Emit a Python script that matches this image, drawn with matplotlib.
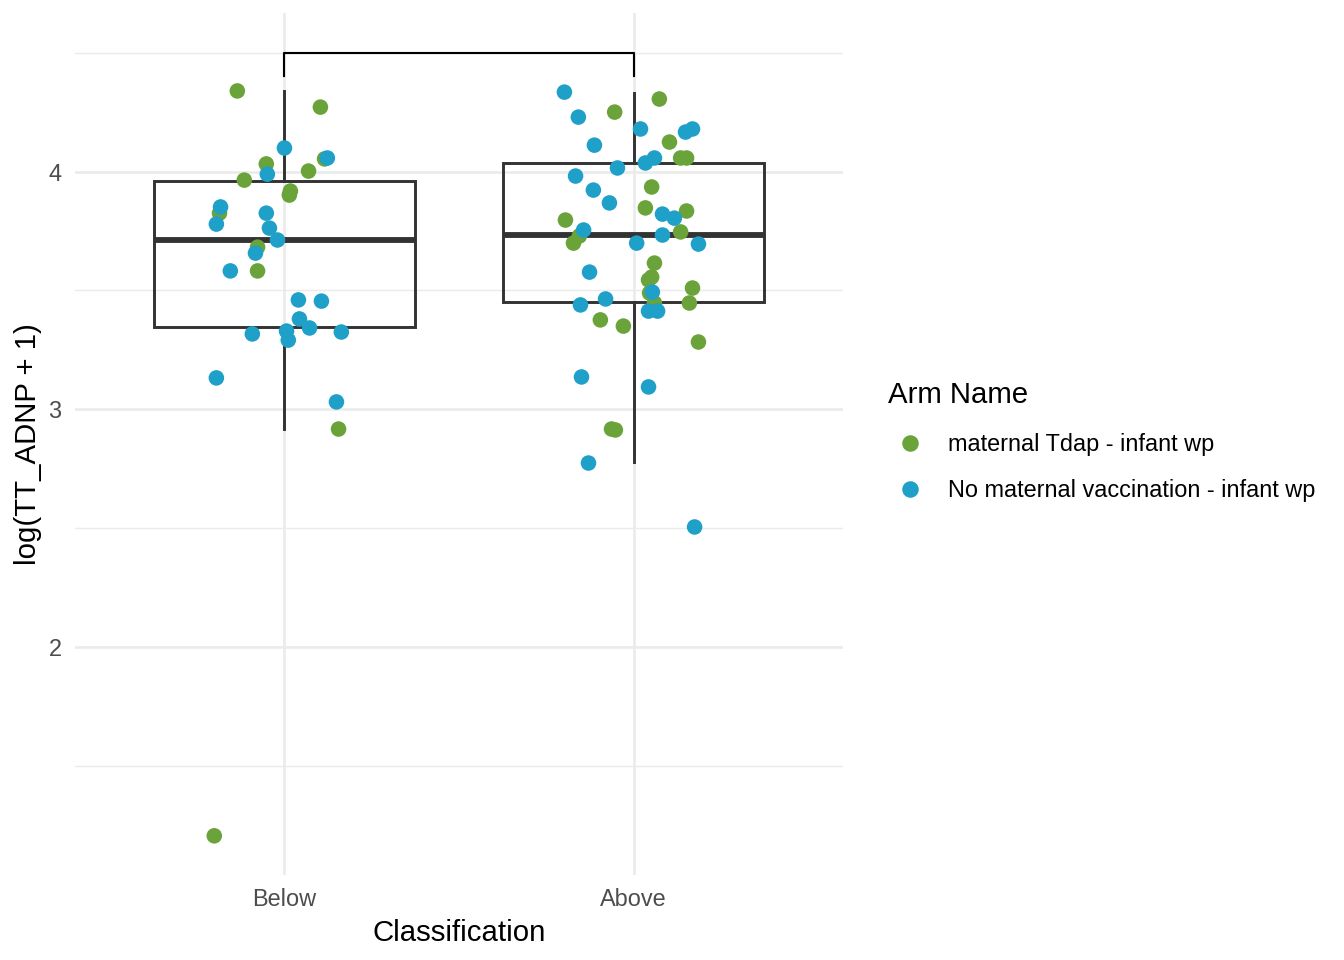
import matplotlib
matplotlib.use("Agg")
from matplotlib import pyplot as plt
from matplotlib.lines import Line2D

plt.rcParams['font.family'] = ['Liberation Sans', 'DejaVu Sans']

# --- data ---
categories = ['Below', 'Above']
arm_names = ['maternal Tdap - infant wp', 'No maternal vaccination - infant wp']
arm_colors = ['#69A33A', '#1FA0C8']

# log(TT_ADNP + 1) values and the horizontal jitter seen in the picture
below_tdap_val = [4.339, 4.271, 4.053, 4.032, 4.002, 3.964, 3.918, 3.901, 3.825,
                  3.682, 3.582, 2.917, 1.206]
below_tdap_dx = [-0.135, 0.103, 0.115, -0.052, 0.069, -0.115, 0.017, 0.014, -0.186,
                 -0.077, -0.077, 0.155, -0.201]
below_none_val = [4.099, 4.057, 3.989, 3.851, 3.779, 3.825, 3.762, 3.712, 3.657, 3.582,
                  3.460, 3.455, 3.380, 3.342, 3.317, 3.329, 3.291, 3.325, 3.132, 3.031]
below_none_dx = [0.0, 0.123, -0.049, -0.183, -0.195, -0.052, -0.043, -0.020, -0.083, -0.155,
                 0.040, 0.106, 0.043, 0.072, -0.092, 0.006, 0.011, 0.163, -0.195, 0.149]
above_tdap_val = [4.305, 4.250, 4.124, 4.057, 4.057, 3.935, 3.847, 3.834, 3.796, 3.729,
                  3.699, 3.746, 3.615, 3.556, 3.544, 3.510, 3.489, 3.447, 3.447, 3.376,
                  3.350, 3.283, 2.917, 2.913]
above_tdap_dx = [0.074, -0.054, 0.103, 0.135, 0.152, 0.052, 0.034, 0.152, -0.195, -0.155,
                 -0.172, 0.135, 0.060, 0.052, 0.043, 0.169, 0.046, 0.160, 0.060, -0.095,
                 -0.029, 0.186, -0.063, -0.052]
above_none_val = [4.334, 4.229, 4.179, 4.166, 4.179, 4.111, 4.036, 4.057, 4.015, 3.981,
                  3.922, 3.868, 3.821, 3.804, 3.754, 3.733, 3.699, 3.695, 3.577, 3.493,
                  3.464, 3.439, 3.413, 3.413, 3.136, 3.094, 2.774, 2.505]
above_none_dx = [-0.198, -0.158, 0.020, 0.149, 0.169, -0.112, 0.034, 0.060, -0.046, -0.166,
                 -0.115, -0.069, 0.083, 0.117, -0.143, 0.083, 0.009, 0.186, -0.126, 0.054,
                 -0.080, -0.152, 0.043, 0.069, -0.149, 0.043, -0.129, 0.175]

# box statistics per category
box_q1 = [3.346, 3.451]
box_med = [3.714, 3.733]
box_q3 = [3.960, 4.036]
box_whislo = [2.917, 2.778]
box_whishi = [4.339, 4.330]

# comparison bracket
bracket_y = 4.498
bracket_tip = 4.402

fig = plt.figure(figsize=(7, 5), dpi=192)
ax = fig.add_axes([0.0558, 0.0885, 0.5714, 0.898])

# grid like theme_minimal
grid_major = '#EBEBEB'
for y in [2, 3, 4]:
    ax.axhline(y, color=grid_major, lw=1.0, zorder=0)
for y in [1.5, 2.5, 3.5, 4.5]:
    ax.axhline(y, color=grid_major, lw=0.55, zorder=0)
for x in [1, 2]:
    ax.axvline(x, color=grid_major, lw=1.0, zorder=0)

stats = []
for i, name in enumerate(categories):
    stats.append(dict(label=name, q1=box_q1[i], med=box_med[i], q3=box_q3[i],
                      whislo=box_whislo[i], whishi=box_whishi[i], fliers=[]))
ax.bxp(stats, positions=[1, 2], widths=0.75, showfliers=False, showcaps=False,
       patch_artist=True,
       boxprops=dict(facecolor='none', edgecolor='#333333', linewidth=1.1),
       whiskerprops=dict(color='#333333', linewidth=1.1),
       medianprops=dict(color='#333333', linewidth=2.2, solid_capstyle='butt'),
       zorder=2)

groups = [
    (1, below_tdap_dx, below_tdap_val, 0),
    (2, above_tdap_dx, above_tdap_val, 0),
    (1, below_none_dx, below_none_val, 1),
    (2, above_none_dx, above_none_val, 1),
]
for pos, dx, vals, arm in groups:
    xs = [pos + d for d in dx]
    ax.scatter(xs, vals, s=34, color=arm_colors[arm], edgecolors='none', zorder=3)

ax.plot([1, 1, 2, 2], [bracket_tip, bracket_y, bracket_y, bracket_tip],
        color='black', lw=0.8, zorder=4)

ax.set_xlim(0.4, 2.6)
ax.set_ylim(1.041, 4.667)
ax.set_xticks([1, 2])
ax.set_xticklabels(categories)
ax.set_yticks([2, 3, 4])
ax.set_yticklabels(['2', '3', '4'])
ax.tick_params(length=0, labelsize=8.8, labelcolor='#4D4D4D', pad=5)
for s in ax.spines.values():
    s.set_visible(False)
ax.set_xlabel('Classification', fontsize=11, labelpad=3)
ax.set_ylabel('log(TT_ADNP + 1)', fontsize=11, labelpad=2.3)

handles = [Line2D([], [], marker='o', ls='none', markersize=6.2, color=c,
                  markeredgewidth=0) for c in arm_colors]
leg = fig.legend(handles, arm_names, title='Arm Name', loc='upper left',
                 bbox_to_anchor=(888 / 1344, 1 - 381 / 960), frameon=False,
                 fontsize=8.8, title_fontsize=11, handlelength=1.87,
                 handletextpad=0.68, labelspacing=1.0, borderpad=0,
                 borderaxespad=0)
leg._legend_box.align = 'left'
leg._legend_box.sep = 9

plt.savefig('out.png', dpi=192)
